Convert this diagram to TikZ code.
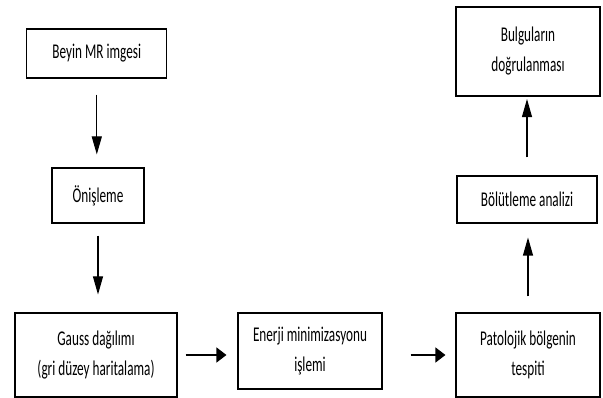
\documentclass[tikz,border=0pt]{standalone}
\usepackage{fontspec}
\setmainfont{Carlito}[FakeStretch=0.63]
\usetikzlibrary{arrows.meta}

\tikzset{
  kutu/.style={draw, line width=1.1pt, inner sep=0pt, align=center,
    font=\fontsize{21}{30}\selectfont},
  okdikey/.style={-{Triangle[length=18pt,width=10pt]}, line width=1.1pt},
  okyatay/.style={-{Triangle[length=10pt,width=15pt]}, line width=1.1pt},
}

\begin{document}
\begin{tikzpicture}[x=1pt, y=-1pt]
            \useasboundingbox (0, 0) rectangle (603, 398);
            \node[kutu, minimum width=140pt, minimum height=49pt] (beyin) at (96.8, 53.5) {Beyin MR imgesi};
            \node[kutu, minimum width=92pt, minimum height=55pt] (onisleme) at (98, 195.5) {Önişleme};
            \node[kutu, minimum width=162pt, minimum height=84pt] (gauss) at (96, 355) {Gauss dağılımı\\(gri düzey haritalama)};
            \node[kutu, minimum width=144pt, minimum height=76pt] (enerji) at (310, 351) {Enerji minimizasyonu\\işlemi};
            \node[kutu, minimum width=144pt, minimum height=84pt] (patoloji) at (528, 355) {Patolojik bölgenin\\tespiti};
            \node[kutu, minimum width=140pt, minimum height=47pt] (bolutleme) at (527, 199.5) {Bölütleme analizi};
            \node[kutu, minimum width=144pt, minimum height=89pt] (bulgu) at (528, 51.5) {Bulguların\\doğrulanması};
            \draw[okdikey, shorten <=16pt, shorten >=13pt] (beyin.south) -- (beyin.south |- onisleme.north);
            \draw[okdikey, shorten <=12pt, shorten >=18pt] (onisleme.south) -- (onisleme.south |- gauss.north);
            \draw[okyatay, shorten <=8pt, shorten >=11pt] (gauss.east) -- (gauss.east -| enerji.west);
            \draw[okyatay, shorten <=28pt, shorten >=10pt] (patoloji.west -| enerji.east) -- (patoloji.west);
            \draw[okdikey, shorten <=16pt, shorten >=14pt] (patoloji.north) -- (patoloji.north |- bolutleme.south);
            \draw[okdikey, shorten <=18pt, shorten >=2.5pt] (bolutleme.north) -- (bolutleme.north |- bulgu.south);
        \end{tikzpicture}
\end{document}
